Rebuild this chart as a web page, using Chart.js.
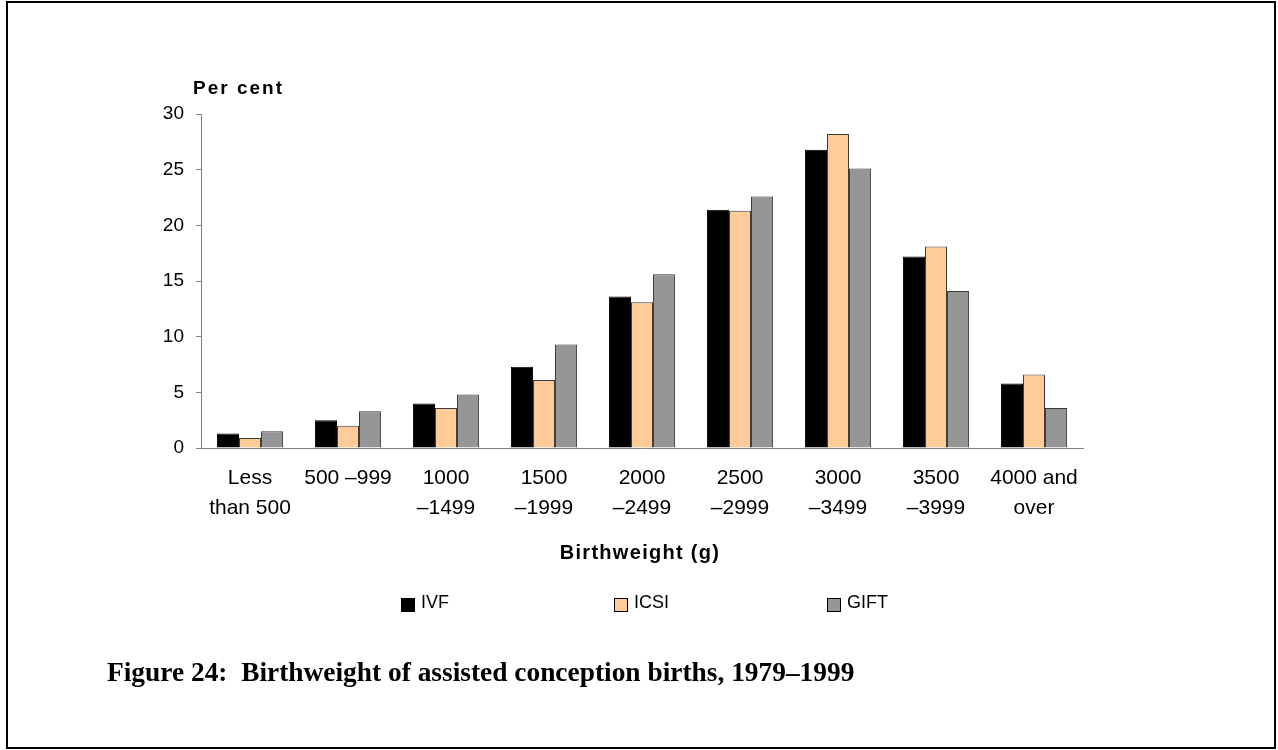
<!DOCTYPE html>
<html>
<head>
<meta charset="utf-8">
<title>Birthweight of assisted conception births</title>
<script src="https://cdn.jsdelivr.net/npm/chart.js@4/dist/chart.umd.min.js"></script>
<style>
  html, body { margin: 0; padding: 0; background: #fff; }
  #page { position: relative; width: 1278px; height: 750px; overflow: hidden; }
  #frame { position: absolute; left: 6px; top: 1px; width: 1270px; height: 748px;
           border: 2px solid #000; box-sizing: border-box; pointer-events: none; }
  #chart { position: absolute; left: 0; top: 0; }
  #caption { position: absolute; left: 107px; top: 657px; line-height: 32px; white-space: nowrap;
             font: bold 27.4px "Liberation Serif", "Times New Roman", serif; color: #000; }
</style>
</head>
<body>
<div id="page">
  <canvas id="chart" width="1278" height="750"></canvas>
  <div id="frame"></div>
  <div id="caption">Figure 24:&nbsp; Birthweight of assisted conception births, 1979–1999</div>
</div>
<script>
const categories = [
    ["Less", "than 500"], "500 –999", ["1000", "–1499"], ["1500", "–1999"],
    ["2000", "–2499"], ["2500", "–2999"], ["3000", "–3499"], ["3500", "–3999"],
    ["4000 and", "over"]
];
const ivf = [1.3, 2.5, 4.0, 7.3, 13.6, 21.4, 26.8, 17.2, 5.8];
const icsi = [0.9, 2.0, 3.6, 6.1, 13.1, 21.3, 28.2, 18.1, 6.6];
const gift = [1.5, 3.3, 4.8, 9.3, 15.6, 22.6, 25.1, 14.1, 3.6];

const FONT = "'Liberation Sans', Arial, sans-serif";
Chart.defaults.font.family = FONT;
Chart.defaults.color = "#000";

// axis titles (letter-spaced, like the original) and the legend row
const extras = {
    id: "extras",
    afterDraw(chart) {
        const ctx = chart.ctx;
        const area = chart.chartArea;
        ctx.save();
        ctx.fillStyle = "#000";
        ctx.textBaseline = "middle";

        ctx.font = "bold 19px " + FONT;
        ctx.letterSpacing = "2px";
        ctx.textAlign = "left";
        ctx.fillText("Per cent", 193, 89);

        ctx.font = "bold 20px " + FONT;
        ctx.letterSpacing = "1.3px";
        ctx.textAlign = "center";
        ctx.fillText("Birthweight (g)", (area.left + area.right) / 2 - 2, 553);
        ctx.letterSpacing = "0px";

        ctx.font = "18px " + FONT;
        ctx.textAlign = "left";
        chart.data.datasets.forEach((ds, i) => {
            const x = 401 + i * 213;
            ctx.fillStyle = ds.backgroundColor;
            ctx.fillRect(x, 598, 14, 14);
            ctx.strokeStyle = "#000";
            ctx.lineWidth = 1;
            ctx.strokeRect(x + 0.5, 598.5, 13, 13);
            ctx.fillStyle = "#000";
            ctx.fillText(ds.label, x + 20, 603);
        });
        ctx.restore();
    }
};

new Chart(document.getElementById("chart"), {
    type: "bar",
    data: {
        labels: categories,
        datasets: [
            { label: "IVF", data: ivf, backgroundColor: "#000000", borderColor: "#000000", borderWidth: 1 },
            { label: "ICSI", data: icsi, backgroundColor: "#FFCC99", borderColor: "#3a3a3a", borderWidth: 1 },
            { label: "GIFT", data: gift, backgroundColor: "#969696", borderColor: "#3a3a3a", borderWidth: 1 }
        ]
    },
    options: {
        responsive: false,
        animation: false,
        layout: { padding: { left: 121, right: 195, top: 114, bottom: 186 } },
        datasets: { bar: { categoryPercentage: 0.675, barPercentage: 1 } },
        plugins: {
            legend: { display: false },
            tooltip: { enabled: false }
        },
        scales: {
            x: {
                grid: { display: false, drawTicks: false },
                border: { color: "#808080", width: 1 },
                ticks: {
                    maxRotation: 0,
                    autoSkip: false,
                    padding: 15,
                    font: { size: 21, lineHeight: "30px" }
                },
                afterFit: scale => { scale.height = 116; }
            },
            y: {
                min: 0,
                max: 30,
                grid: { drawOnChartArea: false, tickLength: 5, color: "#808080" },
                border: { color: "#808080", width: 1 },
                ticks: { stepSize: 5, padding: 12, font: { size: 19 } },
                afterFit: scale => { scale.width = 80; }
            }
        }
    },
    plugins: [extras]
});
</script>
</body>
</html>
